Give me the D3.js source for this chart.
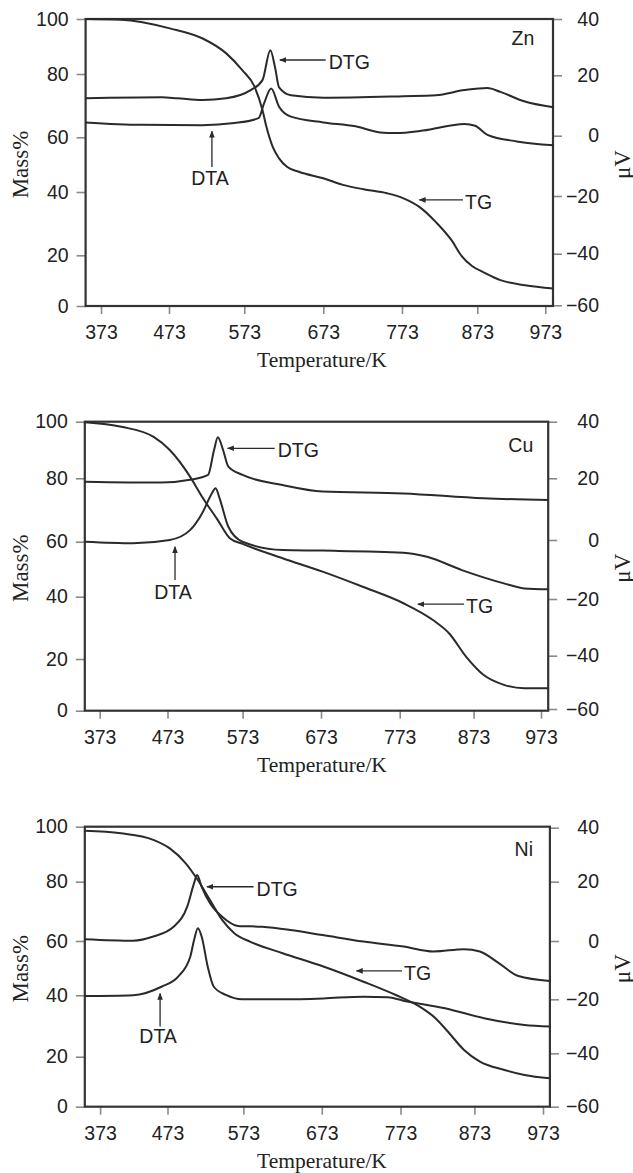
<!DOCTYPE html>
<html><head><meta charset="utf-8">
<script src="https://cdn.jsdelivr.net/npm/d3@7"></script>
<style>body{margin:0;background:#fff} svg{display:block}</style>
</head><body>
<svg id="c" width="633" height="1173"></svg>
<script>
// ---- tick values / labels ----
const xTicks = [373, 473, 573, 673, 773, 873, 973];
const massTicks = [0, 20, 40, 60, 80, 100];
const uvTicks = [-60, -40, -20, 0, 20, 40];
const uvLabels = ["\u221260", "\u221240", "\u221220", "0", "20", "40"];
const metals = ["Zn", "Cu", "Ni"];

// ---- Zn ----
const znTgT  = [350,402,474,517,549,570,586,596,601,609,617,627,642,673,698,724,754,775,796,818,839,852,866,883,907,943,985];
const znTgV  = [100,99.7,96.6,93,87.5,81.5,76,68.6,63.3,56.5,52.3,49.2,47.4,45,42.6,41,39.6,38,35.3,30.5,24.7,19.8,15.8,13.2,10.2,8.2,6.9];
const znDtgT = [350,462,484,517,549,581,596,606,612,617,632,673,775,818,856,888,907,943,985];
const znDtgV = [12.4,12.7,12.4,11.8,12.4,15.1,18.4,28.9,22.7,16,13.4,12.6,13.1,13.4,15.1,15.8,14.5,11.3,9.4];
const znDtaT = [350,432,517,560,591,598,607,617,632,673,714,745,765,801,856,870,888,931,985];
const znDtaV = [4.4,3.6,3.5,4.2,5.8,10.7,15.6,9.6,6.3,4.4,3.1,1.1,0.9,1.7,3.9,3.3,0.3,-1.9,-3.2];

// ---- Cu ----
const cuTgT  = [351,405,452,476,503,519,540,556,573,624,675,726,778,818,840,863,888,918,948,984];
const cuTgV  = [99.8,98.2,94.7,90,80.6,74.2,66.8,61.1,59.2,54,49.1,43.6,37.9,32.5,28.2,20.7,13.8,10,8.7,8.7];
const cuDtgT = [351,464,503,527,535,540,547,554,573,624,675,778,888,984];
const cuDtgV = [18.9,18.6,19.5,21.2,30,34.5,30,24.1,21.2,17.8,15.7,15.1,13.5,13];
const cuDtaT = [351,422,476,503,519,532,537,543,554,573,624,675,778,810,857,918,948,984];
const cuDtaV = [-0.6,-1.1,0,3.2,8.6,15.1,16.8,13,4.3,-0.6,-3.4,-3.6,-4.3,-5.7,-10.2,-14.7,-16.4,-16.7];

// ---- Ni ----
const niTgT  = [350,404,452,476,497,513,529,545,561,582,623,675,726,767,799,820,837,859,881,917,946,983];
const niTgV  = [98.5,97.6,95.2,92.1,86.7,80.6,73.8,67.1,62.6,59.7,55.5,50.6,45,40.1,36.3,32.6,28.2,22.2,18,14.7,12.7,11.4];
const niDtgT = [350,422,452,481,499,508,512,518,529,545,566,597,633,674,726,777,818,859,881,908,937,983];
const niDtgV = [0.6,0.1,1.5,4.8,11.6,19.5,22.5,18.3,12.7,8.2,5.1,4.8,3.7,2,-0.2,-1.9,-3.6,-2.8,-3.6,-7.5,-12,-13.7];
const niDtaT = [350,422,464,487,503,508,513,518,526,534,550,571,624,675,726,757,777,833,887,946,983];
const niDtaV = [-18.9,-18.6,-15.7,-12.2,-5.4,0.3,4.3,1.5,-8.8,-15.7,-18.5,-20,-20,-19.7,-19.1,-19.3,-20.5,-23.3,-27,-29.5,-30.1];

// ---- annotation anchors (temperature, mass%) ----
const dtgArrowY    = [85.1, 90.6, 78.3];
const dtgArrowHead = [618, 553, 525];
const dtgArrowTail = [676, 614, 586];
const dtaArrowT    = [530, 483, 462];
const dtaArrowHead = [61.9, 58.2, 40.7];
const dtaArrowTail = [49.1, 46.1, 29.8];
const dtaTextY     = [45.1, 41.8, 26.8];
const tgArrowY     = [37.5, 37.6, 49];
const tgArrowHead  = [796, 797.5, 717];
const tgArrowTail  = [854, 860, 775];
const metalT       = [940, 943, 945];
const metalY       = [93, 91.8, 91.8];

// ---- layout (pixel geometry, not data) ----
const layouts = [
  {frame:{l:85.6,r:553,t:19,b:306}, xPos:[101,169,244.3,323.3,402,477.3,545.3],
   lPos:[306,255.3,192,137.3,74,19], rPos:[305.3,253.7,196,135.7,75.3,19]},
  {frame:{l:84.8,r:548.2,t:421.7,b:710.7}, xPos:[99.7,167.5,242.6,321,399.7,473.6,541],
   lPos:[710.7,659,596.7,541.7,478.3,421.7], rPos:[709,655.7,599,540,478.3,421.7]},
  {frame:{l:84.8,r:549.9,t:826.7,b:1106.7}, xPos:[100.1,167.5,243.4,321.8,400.5,474.4,543],
   lPos:[1106.7,1056.7,995.3,941,881.7,826.7], rPos:[1106.7,1053.3,999.3,941,881.7,827.7]}
];

const series = [
  {tg:[znTgT,znTgV], dtg:[znDtgT,znDtgV], dta:[znDtaT,znDtaV]},
  {tg:[cuTgT,cuTgV], dtg:[cuDtgT,cuDtgV], dta:[cuDtaT,cuDtaV]},
  {tg:[niTgT,niTgV], dtg:[niDtgT,niDtgV], dta:[niDtaT,niDtaV]}
];

const svg = d3.select("#c");
const sans = "'Liberation Sans', Arial, Helvetica, sans-serif";
const serif = "'Liberation Serif', 'Times New Roman', serif";
const ink = "#2a2a2a";
const fs = "19.5px";

svg.append("defs").append("marker")
  .attr("id","ah").attr("viewBox","0 0 10 10").attr("refX",9).attr("refY",5)
  .attr("markerWidth",7).attr("markerHeight",7).attr("markerUnits","userSpaceOnUse")
  .attr("orient","auto")
  .append("path").attr("d","M0,1 L10,5 L0,9 Z").attr("fill",ink);

layouts.forEach((L, i) => {
  const f = L.frame;
  const x = d3.scaleLinear().domain(xTicks).range(L.xPos);
  const yL = d3.scaleLinear().domain(massTicks).range(L.lPos);
  const yR = d3.scaleLinear().domain(uvTicks).range(L.rPos);
  const g = svg.append("g");

  // axes
  const ax = g.append("g").attr("transform", `translate(0,${f.b})`)
    .call(d3.axisBottom(x).tickValues(xTicks).tickSize(8).tickPadding(11).tickFormat(d3.format("d")));
  const al = g.append("g").attr("transform", `translate(${f.l},0)`)
    .call(d3.axisLeft(yL).tickValues(massTicks).tickSize(9).tickPadding(8).tickFormat(d3.format("d")));
  const ar = g.append("g").attr("transform", `translate(${f.r},0)`)
    .call(d3.axisRight(yR).tickValues(uvTicks).tickSize(9).tickFormat((d,k)=>uvLabels[k]));
  [ax, al, ar].forEach(a => {
    a.select(".domain").remove();
    a.selectAll(".tick line").attr("stroke","#8a8a8a").attr("stroke-width",1.6);
    a.selectAll("text").attr("fill","#222").style("font-family",sans).style("font-size",fs);
  });
  ar.selectAll("text").attr("text-anchor","end").attr("x", 599 - f.r);

  // frame
  g.append("rect").attr("x",f.l).attr("y",f.t).attr("width",f.r-f.l).attr("height",f.b-f.t)
    .attr("fill","none").attr("stroke","#333").attr("stroke-width",2.2);

  // curves
  const s = series[i];
  const mk = (arr, yS) => d3.line().x(d => x(d[0])).y(d => yS(d[1])).curve(d3.curveMonotoneX)(arr[0].map((t,k)=>[t, arr[1][k]]));
  [[s.tg,yL],[s.dtg,yR],[s.dta,yR]].forEach(([arr,yS]) => {
    g.append("path").attr("d", mk(arr,yS)).attr("fill","none").attr("stroke",ink)
      .attr("stroke-width",2).attr("stroke-linejoin","round");
  });

  // annotations
  const arrow = (x1,y1,x2,y2) => g.append("line").attr("x1",x1).attr("y1",y1).attr("x2",x2).attr("y2",y2)
      .attr("stroke",ink).attr("stroke-width",1.3).attr("marker-end","url(#ah)");
  const label = (txt,xx,yy,anchor) => g.append("text").attr("x",xx).attr("y",yy).attr("text-anchor",anchor)
      .attr("dominant-baseline","central").attr("fill","#222")
      .style("font-family",sans).style("font-size",fs).text(txt);

  arrow(x(dtgArrowTail[i]), yL(dtgArrowY[i]), x(dtgArrowHead[i]), yL(dtgArrowY[i]));
  label("DTG", x(dtgArrowTail[i]) + 3, yL(dtgArrowY[i]) + 2, "start");
  arrow(x(dtaArrowT[i]), yL(dtaArrowTail[i]), x(dtaArrowT[i]), yL(dtaArrowHead[i]));
  label("DTA", x(dtaArrowT[i]) - 2, yL(dtaTextY[i]), "middle");
  arrow(x(tgArrowTail[i]), yL(tgArrowY[i]), x(tgArrowHead[i]), yL(tgArrowY[i]));
  label("TG", x(tgArrowTail[i]) + 2, yL(tgArrowY[i]) + 2, "start");
  label(metals[i], x(metalT[i]), yL(metalY[i]), "middle");

  // axis titles
  const midY = (f.t + f.b) / 2 + 2;
  g.append("text").attr("transform", `translate(20,${midY}) rotate(-90)`).attr("text-anchor","middle")
    .attr("dominant-baseline","central").attr("fill","#222")
    .style("font-family",serif).style("font-size","23px").text("Mass%");
  g.append("text").attr("transform", `translate(622,${midY}) rotate(-90)`).attr("text-anchor","middle")
    .attr("dominant-baseline","central").attr("fill","#222")
    .style("font-family",serif).style("font-size","23px").text("\u03bcV");
  g.append("text").attr("x", 322).attr("y", f.b + 61).attr("text-anchor","middle")
    .attr("fill","#222").style("font-family",serif).style("font-size","21.5px").text("Temperature/K");
});
</script>
</body></html>
